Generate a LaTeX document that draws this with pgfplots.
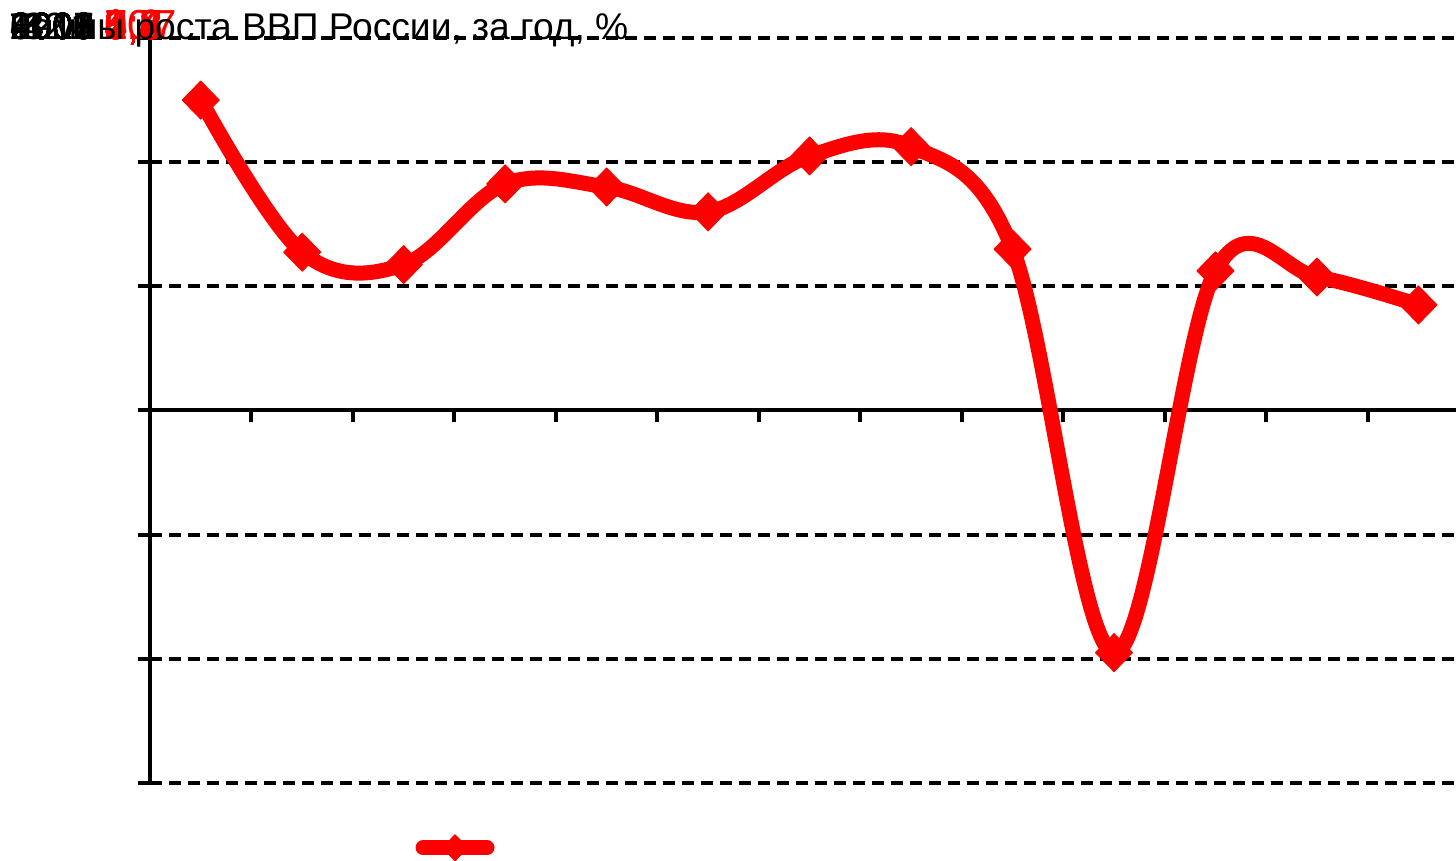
\documentclass[border=0pt]{standalone}
\usepackage{fontspec}
\setmainfont{Liberation Sans}
\usepackage{pgfplots}
\pgfplotsset{compat=1.18}
\begin{document}
\begin{tikzpicture}[x=1pt,y=1pt]
\useasboundingbox (0,0) rectangle (728,430.5);
\begin{axis}[
  at={(75pt,39pt)}, anchor=south west,
  width=653pt, height=372.5pt, scale only axis,
  xmin=-0.5, xmax=12.37, ymin=-12, ymax=12,
  axis y line=left, axis x line=middle,
  axis line style={black, line width=2pt, -},
  xtick={0.5,1.5,...,11.5}, xticklabels={},
  ytick={-12,-8,...,12}, yticklabels={},
  ymajorgrids,
  major grid style={black, line width=2pt, dash pattern=on 6pt off 3.5pt},
  tick style={black, line width=2pt},
  major tick length=6pt, tick align=outside,
  clip=false,
  legend style={at={(0.203,-0.087)}, anchor=west, draw=none, fill=none, inner sep=0pt},
  legend image code/.code={\draw[#1, mark repeat=2, mark phase=2, mark size=6.5pt] plot coordinates {(0pt,0pt) (16pt,0pt) (32pt,0pt)};},
]
\addplot[red, line width=7.5pt, line cap=round, line join=round, smooth, tension=0.6,
  mark=diamond*, mark size=9.5pt, mark options={solid, line width=0.5pt, xscale=1.3}]
  coordinates {(0,10.0) (1,5.1) (2,4.7) (3,7.3) (4,7.2) (5,6.4) (6,8.2) (7,8.5) (8,5.2) (9,-7.8) (10,4.5) (11,4.3) (12,3.4)};
\addlegendentry{}
\end{axis}
\begin{scope}[every node/.style={anchor=base west, inner sep=0pt, font=\fontsize{19}{22}\selectfont}]
\foreach \t in {2000,2001,2002,2003,2004,2005,2006,2007,2008,2009,2010,2011,2012,-12,-8,-4,0,4,8,12}
  \node at (5pt,410.5pt) {\t};
\foreach \t in {10,0;5,1;4,7;7,3;7,2;6,4;8,2;8,5;5,2;-7,8;4,5;4,3;3,4}
  \node[text=red, font=\fontsize{21}{24}\selectfont] at (52pt,410.5pt) {\t};
\node[font=\fontsize{18.6}{22}\selectfont] at (5pt,410.5pt) {Темпы роста ВВП России, за год, \%};
\end{scope}
\end{tikzpicture}
\end{document}
